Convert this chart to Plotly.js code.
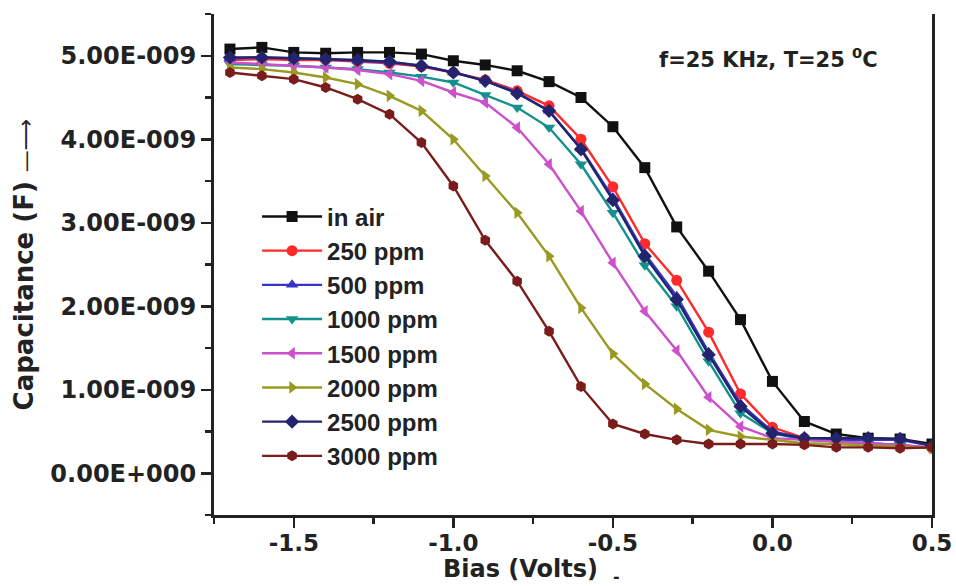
<!DOCTYPE html>
<html><head><meta charset="utf-8">
<script src="https://cdn.plot.ly/plotly-3.0.1.min.js"></script>
<style>html,body{margin:0;padding:0;background:#fff}#chart{width:956px;height:586px}</style>
</head><body><div id="chart"></div>
<script>
// Bias (V)
const biasVolts = [-1.7,-1.6,-1.5,-1.4,-1.3,-1.2,-1.1,-1.0,-0.9,-0.8,-0.7,-0.6,-0.5,-0.4,-0.3,-0.2,-0.1,0.0,0.1,0.2,0.3,0.4,0.5];
// Capacitance in units of 1E-009 F
const capInAir = [5.08,5.10,5.04,5.03,5.04,5.04,5.02,4.94,4.89,4.82,4.69,4.50,4.15,3.66,2.95,2.42,1.84,1.10,0.62,0.47,0.42,0.41,0.35];
const cap250  = [4.95,4.96,4.95,4.95,4.93,4.91,4.87,4.80,4.71,4.58,4.40,4.00,3.43,2.75,2.31,1.69,0.95,0.55,0.42,0.38,0.36,0.34,0.30];
const cap500  = [4.97,4.98,4.97,4.96,4.94,4.92,4.88,4.80,4.70,4.56,4.34,3.89,3.30,2.63,2.12,1.45,0.83,0.50,0.42,0.40,0.40,0.40,0.33];
const cap1000 = [4.90,4.89,4.88,4.86,4.84,4.80,4.75,4.68,4.53,4.38,4.14,3.70,3.12,2.49,2.00,1.34,0.72,0.48,0.40,0.38,0.36,0.34,0.30];
const cap1500 = [4.92,4.90,4.88,4.86,4.83,4.78,4.70,4.56,4.44,4.14,3.70,3.14,2.52,1.94,1.47,0.91,0.56,0.42,0.40,0.38,0.36,0.34,0.31];
const cap2000 = [4.86,4.84,4.80,4.74,4.66,4.52,4.34,4.00,3.56,3.12,2.60,1.98,1.43,1.07,0.77,0.52,0.44,0.40,0.36,0.35,0.33,0.32,0.30];
const cap2500 = [4.98,4.98,4.97,4.96,4.95,4.93,4.88,4.80,4.70,4.55,4.34,3.88,3.27,2.60,2.08,1.42,0.80,0.48,0.42,0.42,0.42,0.41,0.33];
const cap3000 = [4.80,4.76,4.72,4.62,4.48,4.30,3.96,3.44,2.79,2.30,1.70,1.04,0.59,0.47,0.40,0.35,0.35,0.35,0.34,0.31,0.31,0.30,0.31];

const seriesNames = ['in air','250 ppm','500 ppm','1000 ppm','1500 ppm','2000 ppm','2500 ppm','3000 ppm'];
const seriesValues = [capInAir,cap250,cap500,cap1000,cap1500,cap2000,cap2500,cap3000];

const xTickVals = [-1.5,-1.0,-0.5,0.0,0.5];
const xTickText = ['-1.5','-1.0','-0.5','0.0','0.5'];
const yTickVals = [0,1,2,3,4,5];
const yTickText = ['0.00E+000','1.00E-009','2.00E-009','3.00E-009','4.00E-009','5.00E-009'];

const colors = ['#111111','#ff2a2a','#3535c8','#14918f','#cc4fcc','#9a9a22','#24246e','#7a1c1c'];
const symbols = ['square','circle','triangle-up','triangle-down','triangle-left','triangle-right','diamond','hexagon'];

const traces = seriesNames.map((name,i)=>({
  type:'scatter', mode:'lines+markers', name:name,
  x: biasVolts, y: seriesValues[i],
  line:{color:colors[i], width:2.4},
  marker:{symbol:symbols[i], size:11, color:colors[i], line:{width:0}}
}));

const tickFont = {family:'DejaVu Sans', size:24, color:'#222', weight:'bold'};
const layout = {
  width:956, height:586,
  margin:{l:214, r:24, t:14, b:71},
  paper_bgcolor:'#fff', plot_bgcolor:'#fff',
  showlegend:true,
  legend:{x:0.06, y:0.64, xanchor:'left', yanchor:'top', bgcolor:'rgba(0,0,0,0)',
    font:{family:'Liberation Sans', size:24, color:'#222', weight:'bold'}, itemwidth:60, tracegroupgap:0},
  xaxis:{range:[-1.75,0.5], tickmode:'array', tickvals:xTickVals, ticktext:xTickText,
    ticks:'outside', ticklen:10, tickwidth:2.5, tickcolor:'#222', ticklabelstandoff:-5,
    minor:{tickmode:'linear', tick0:0, dtick:0.25, ticks:'outside', ticklen:6, tickwidth:2.5, tickcolor:'#222', showgrid:false},
    showline:true, linewidth:3, linecolor:'#222', mirror:false, showgrid:false, zeroline:false,
    tickfont:{family:'DejaVu Sans', size:23, color:'#222', weight:'bold'}, automargin:false},
  yaxis:{range:[-0.5,5.5], tickmode:'array', tickvals:yTickVals, ticktext:yTickText,
    ticks:'outside', ticklen:10, tickwidth:2.5, tickcolor:'#222',
    minor:{tickmode:'linear', tick0:0, dtick:0.5, ticks:'outside', ticklen:6, tickwidth:2.5, tickcolor:'#222', showgrid:false},
    showline:true, linewidth:3, linecolor:'#222', mirror:true, showgrid:false, zeroline:false,
    tickfont:tickFont, automargin:false,
    title:{text:'Capacitance (F) <span style="font-weight:normal;font-size:22px">—⟶</span>', standoff:10,
      font:{family:'DejaVu Sans', size:26, color:'#222', weight:'bold'}}},
  annotations:[
    {xref:'paper', yref:'paper', x:0.427, y:-0.107, xanchor:'center', yanchor:'middle', showarrow:false,
      text:'Bias (Volts)', font:{family:'DejaVu Sans', size:24, color:'#222', weight:'bold'}},
    {xref:'paper', yref:'paper', x:0.56, y:-0.122, xanchor:'center', yanchor:'middle', showarrow:false,
      text:'-', font:{family:'DejaVu Sans', size:16, color:'#222', weight:'bold'}},
    {xref:'paper', yref:'paper', x:0.928, y:0.912, xanchor:'right', yanchor:'middle', showarrow:false,
      text:'f=25 KHz, T=25 <sup>0</sup>C', font:{family:'DejaVu Sans', size:21, color:'#222', weight:'bold'}}
  ]
};
Plotly.newPlot('chart', traces, layout, {displayModeBar:false, staticPlot:true});
</script></body></html>
